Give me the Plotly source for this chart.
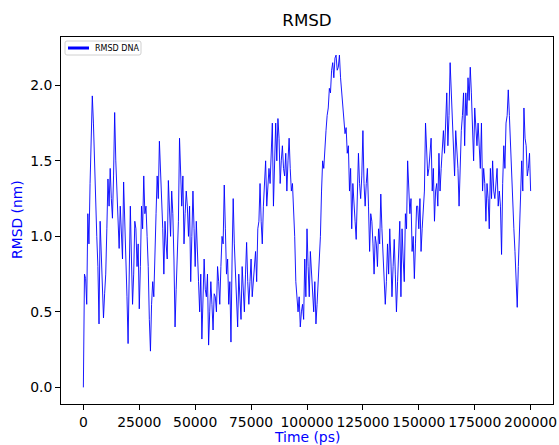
import plotly.graph_objects as go

# time axis, one sample every 500 ps
time_ps = list(range(0, 200001, 500))

rmsd_seg1 = [0.0, 0.75, 0.72, 0.55, 1.15, 0.95, 1.35, 1.65, 1.93, 1.75,
             1.45, 1.2, 1.0, 0.8, 0.42, 1.1, 0.85, 0.6, 0.46, 0.62,
             0.75, 1.05, 1.38, 1.2, 1.45, 1.25, 1.12, 1.4, 1.82, 1.5,
             1.3, 1.15, 0.92, 1.2, 1.05, 0.85, 1.36, 1.15, 0.95, 0.6,
             0.29, 0.75, 1.2, 0.85, 0.55, 0.75, 1.1, 1.05, 0.8, 0.95,
             0.52, 0.8, 1.2, 1.05, 1.4, 1.15]
rmsd_seg2 = [1.2, 1.0, 0.8, 0.45, 0.24, 0.55, 0.7, 0.6, 0.95, 1.15,
             1.4, 1.25, 1.63, 1.45, 1.3, 1.05, 0.75, 1.1, 0.95, 0.85,
             1.37, 1.2, 1.0, 1.3, 1.15, 0.85, 0.4, 0.65, 0.85, 1.1,
             1.65, 1.45, 1.2, 1.4, 0.95, 1.15, 1.3, 1.2, 1.0, 1.2,
             0.7, 1.0, 1.3, 1.05, 0.8, 1.1, 0.95, 0.7, 0.5, 0.75,
             0.32, 0.6, 0.85, 0.65, 0.6, 0.75, 0.28, 0.5]
rmsd_seg3 = [0.7, 0.55, 0.38, 0.62, 0.6, 0.5, 0.8, 0.7, 0.55, 0.8,
             1.0, 0.95, 1.34, 1.05, 0.75, 0.85, 0.55, 0.7, 0.3, 0.85,
             1.25, 0.95, 0.75, 0.6, 0.4, 0.75, 0.6, 0.45, 0.8, 0.65,
             0.5, 0.75, 0.96, 0.7, 0.55, 0.7, 0.85, 0.6, 0.7, 0.8,
             0.9, 0.7, 1.05, 1.1, 1.35, 1.1, 0.95, 1.2, 1.4, 1.5,
             1.2, 1.3, 1.45, 1.35, 1.65, 1.75]
rmsd_seg4 = [1.2, 1.55, 1.75, 1.5, 1.78, 1.65, 1.35, 1.5, 1.6, 1.45,
             1.4, 1.55, 1.3, 1.5, 1.65, 1.45, 1.3, 1.35, 1.18, 1.0,
             0.7, 0.6, 0.5, 0.6, 0.4, 0.5, 0.55, 0.45, 0.85, 0.6,
             1.05, 0.8, 0.6, 0.9, 0.75, 0.6, 0.5, 0.7, 0.42, 0.55,
             0.7, 0.8, 1.0, 1.3, 1.5, 1.45, 1.62, 1.7, 1.8, 1.85,
             1.98, 1.95, 2.1, 2.15, 2.05, 2.18, 2.2, 2.1]
rmsd_seg5 = [2.12, 2.2, 2.05, 1.95, 1.85, 1.78, 1.68, 1.72, 1.55, 1.6,
             1.3, 1.45, 1.05, 1.35, 1.25, 1.1, 0.98, 1.2, 1.55, 1.35,
             1.25, 1.4, 1.7, 1.35, 1.2, 1.35, 1.45, 1.2, 0.9, 1.15,
             1.1, 0.95, 0.75, 1.0, 0.95, 0.8, 1.05, 0.95, 1.28, 1.05,
             0.85, 0.75, 0.55, 0.7, 0.95, 0.75, 1.05, 0.85, 0.6, 0.8,
             0.98, 0.75, 0.5, 0.7, 0.9, 1.1, 0.6, 1.05]
rmsd_seg6 = [0.85, 0.7, 1.15, 1.05, 1.5, 1.3, 1.15, 1.25, 0.9, 1.0,
             0.72, 0.95, 1.2, 1.2, 1.05, 1.25, 0.9, 1.05, 1.2, 1.3,
             1.75, 1.6, 1.4, 1.45, 1.6, 1.65, 1.3, 1.45, 1.1, 1.3,
             1.35, 1.2, 1.55, 1.3, 1.45, 1.6, 1.7, 1.55, 1.85, 1.95,
             1.6, 1.8, 2.15, 1.95, 1.75, 1.6, 1.4, 1.7, 1.6, 1.45,
             1.2, 1.55, 1.7, 1.8, 1.95, 1.6]
rmsd_seg7 = [1.95, 1.8, 2.05, 1.9, 2.12, 1.95, 1.7, 1.5, 1.85, 1.7,
             1.6, 1.75, 1.55, 1.45, 1.75, 1.3, 1.45, 1.35, 1.1, 1.35,
             1.25, 1.05, 1.45, 1.25, 1.5, 1.3, 1.25, 1.4, 1.45, 1.2,
             1.3, 1.2, 0.88, 1.35, 1.6, 1.45, 1.75, 1.8, 1.97, 1.8,
             1.6, 1.4, 1.15, 1.05, 0.9, 0.75, 0.53, 0.8, 1.05, 1.25,
             1.5, 1.3, 1.85, 1.65, 1.6, 1.4, 1.45, 1.55, 1.3]

rmsd_nm = rmsd_seg1 + rmsd_seg2 + rmsd_seg3 + rmsd_seg4 + rmsd_seg5 + rmsd_seg6 + rmsd_seg7

x_ticks = [0, 25000, 50000, 75000, 100000, 125000, 150000, 175000, 200000]
y_ticks = [0.0, 0.5, 1.0, 1.5, 2.0]

FONT = "DejaVu Sans"
BLUE = "#0000ff"

# figure geometry (pixels)
W, H = 559, 445
L, R, T, B = 61, 6, 37, 41
PW, PH = W - L - R, H - T - B


def px(xp):
    return (xp - L) / PW


def py(yp):
    return (H - B - yp) / PH


n = min(len(time_ps), len(rmsd_nm))
fig = go.Figure()
fig.add_trace(go.Scatter(
    x=time_ps[:n], y=rmsd_nm[:n], mode="lines", name="RMSD DNA",
    line=dict(color=BLUE, width=0.9), showlegend=False, hoverinfo="skip"))

fig.update_layout(
    width=W, height=H,
    margin=dict(l=L, r=R, t=T, b=B),
    paper_bgcolor="white", plot_bgcolor="white",
    font=dict(family=FONT, size=14, color="black"),
    title=dict(text="RMSD", x=0.5, xref="paper", y=1 - 20 / H, yref="container",
               xanchor="center", yanchor="middle", font=dict(size=16.7, color="black")),
    showlegend=False,
)
fig.update_xaxes(
    range=[-10000, 210000], tickvals=x_ticks, ticktext=[str(v) for v in x_ticks],
    ticks="outside", ticklen=5, tickwidth=0.8, tickcolor="black",
    showline=True, linecolor="black", linewidth=0.8, mirror=True,
    showgrid=False, zeroline=False, tickfont=dict(size=13.9), automargin=False)
fig.update_yaxes(
    range=[-0.11, 2.32], tickvals=y_ticks, ticktext=[f"{v:.1f}" for v in y_ticks],
    ticks="outside", ticklen=5, tickwidth=0.8, tickcolor="black",
    showline=True, linecolor="black", linewidth=0.8, mirror=True,
    showgrid=False, zeroline=False, tickfont=dict(size=13.9), automargin=False)

# axis titles
fig.add_annotation(text="Time (ps)", xref="paper", yref="paper", x=px(307), y=py(437),
                   showarrow=False, xanchor="center", yanchor="middle",
                   font=dict(size=13.9, color=BLUE))
fig.add_annotation(text="RMSD (nm)", xref="paper", yref="paper", x=px(17), y=py(220),
                   showarrow=False, xanchor="center", yanchor="middle", textangle=-90,
                   font=dict(size=13.9, color=BLUE))

# legend box (matplotlib style)
x0, x1, y0, y1, r = 65, 141, 41, 55, 2
path = (f"M {px(x0 + r)},{py(y0)} L {px(x1 - r)},{py(y0)} "
        f"Q {px(x1)},{py(y0)} {px(x1)},{py(y0 + r)} L {px(x1)},{py(y1 - r)} "
        f"Q {px(x1)},{py(y1)} {px(x1 - r)},{py(y1)} L {px(x0 + r)},{py(y1)} "
        f"Q {px(x0)},{py(y1)} {px(x0)},{py(y1 - r)} L {px(x0)},{py(y0 + r)} "
        f"Q {px(x0)},{py(y0)} {px(x0 + r)},{py(y0)} Z")
fig.add_shape(type="path", path=path, xref="paper", yref="paper",
              line=dict(color="#d0d0d0", width=1), fillcolor="rgba(255,255,255,0.8)")
fig.add_shape(type="line", xref="paper", yref="paper",
              x0=px(68), x1=px(89), y0=py(48), y1=py(48),
              line=dict(color=BLUE, width=3))
fig.add_annotation(text="RMSD DNA", xref="paper", yref="paper", x=px(93), y=py(48),
                   showarrow=False, xanchor="left", yanchor="middle",
                   font=dict(size=8, color="black"))

fig.write_html("out.html", config={"displayModeBar": False},
               post_script="document.body.style.margin='0';document.body.style.padding='0';"
                           "document.documentElement.style.overflow='hidden';")
